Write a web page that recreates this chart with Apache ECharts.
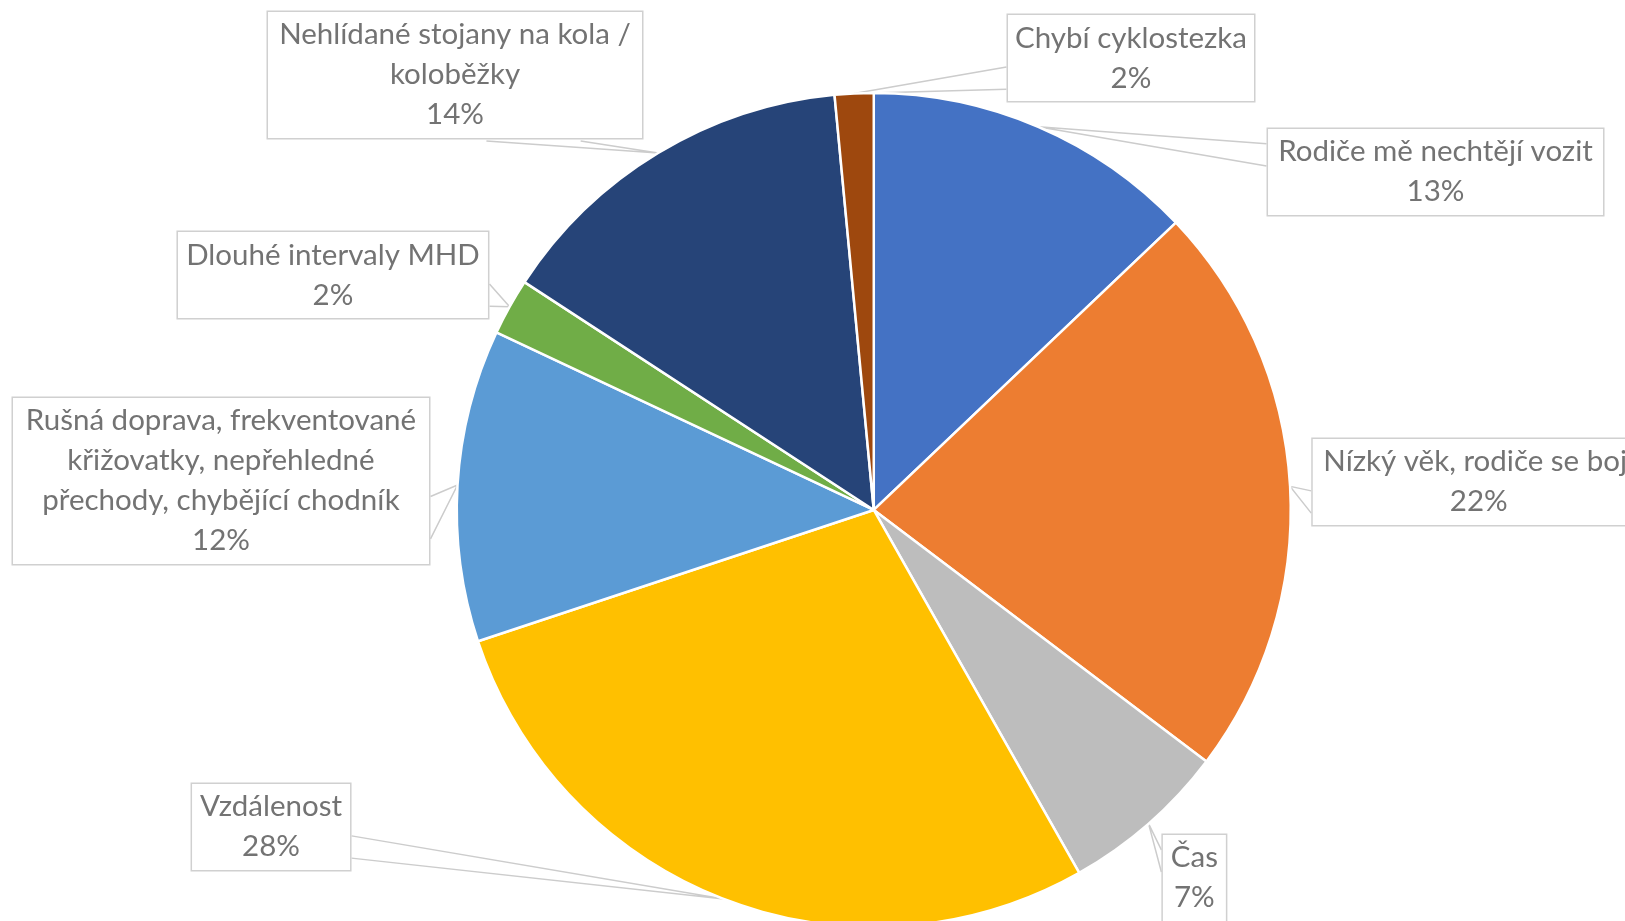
<!DOCTYPE html>
<html>
<head>
<meta charset="utf-8">
<script src="https://cdn.jsdelivr.net/npm/echarts@6/dist/echarts.min.js"></script>
<style>
    html, body { margin: 0; padding: 0; background: #fff; }
    #chart { width: 1625px; height: 921px; }
</style>
</head>
<body>
<div id="chart"></div>
<script>
// categories in clockwise order from 12 o'clock
const categories = [
    'Rodiče mě nechtějí vozit',
    'Nízký věk, rodiče se bojí',
    'Čas',
    'Vzdálenost',
    'Rušná doprava, frekventované\nkřižovatky, nepřehledné\npřechody, chybějící chodník',
    'Dlouhé intervaly MHD',
    'Nehlídané stojany na kola /\nkoloběžky',
    'Chybí cyklostezka'
]
// share of answers (%)
const values = [12.9, 22.4, 6.5, 28.1, 12.1, 2.2, 14.3, 1.5]
const colors = ['#4472C4', '#ED7D31', '#BDBDBD', '#FFC000', '#5B9BD5', '#70AD47', '#264478', '#9E480E']

// callout boxes: centre x, top y, box width
const labelBoxes = [
    ['88.34%', '14.0%', 335],
    ['91.0%', '47.66%', 332],
    ['73.5%', '90.66%', 63],
    ['16.68%', '85.12%', 158],
    ['13.6%', '43.21%', 416],
    ['20.49%', '25.19%', 310],
    ['28.0%', '1.30%', 374],
    ['69.6%', '1.63%', 246]
]

const chart = echarts.init(document.getElementById('chart'))

function pct(v, total) {
    return parseFloat(v) / 100 * total
}

// wedge callout like the office one: base on the side facing the tip
function wedge(tip, x0, y0, w, h) {
    const dx = tip[0] - (x0 + w / 2)
    const dy = tip[1] - (y0 + h / 2)
    const dq = dx * h / w
    let a, b
    if (Math.abs(dy) > Math.abs(dq)) {
        const g1 = dx > 0 ? 7 : 2
        const g2 = dx > 0 ? 10 : 5
        const yy = dy > 0 ? y0 + h : y0
        a = [x0 + w * g1 / 12, yy]
        b = [x0 + w * g2 / 12, yy]
    } else {
        const g1 = dy > 0 ? 7 : 2
        const g2 = dy > 0 ? 10 : 5
        const xx = dx > 0 ? x0 + w : x0
        a = [xx, y0 + h * g1 / 12]
        b = [xx, y0 + h * g2 / 12]
    }
    return [a, tip, b]
}

const seriesData = categories.map((name, i) => ({
    name: name,
    value: values[i],
    itemStyle: { color: colors[i] },
    label: { width: labelBoxes[i][2] }
}))

let option = {
    animation: false,
    series: [
        {
            type: 'pie',
            center: ['53.77%', '55.37%'],
            radius: 417,
            startAngle: 90,
            clockwise: true,
            avoidLabelOverlap: false,
            itemStyle: {
                borderColor: '#fff',
                borderWidth: 2.5
            },
            label: {
                show: true,
                position: 'outside',
                formatter: function(p) {
                    return p.name + '\n' + Math.round(p.percent) + '%'
                },
                fontFamily: 'Lato',
                fontSize: 29.5,
                lineHeight: 40,
                color: '#737373',
                align: 'center',
                backgroundColor: '#fff',
                borderColor: '#D0D0D0',
                borderWidth: 1.5,
                padding: [3, 0]
            },
            labelLine: {
                show: true,
                length: 10,
                length2: 10,
                lineStyle: { color: '#CCCCCC', width: 1.5 }
            },
            labelLayout: function(p) {
                const box = labelBoxes[p.dataIndex]
                const cx = pct(box[0], chart.getWidth())
                const top = pct(box[1], chart.getHeight())
                const w = p.labelRect.width
                const h = p.labelRect.height
                let res = { x: cx, y: top, align: 'center', verticalAlign: 'top' }
                if (p.labelLinePoints) {
                    res.labelLinePoints = wedge(p.labelLinePoints[0], cx - w / 2, top, w, h)
                }
                return res
            },
            data: seriesData
        }
    ]
}
chart.setOption(option)
</script>
</body>
</html>
